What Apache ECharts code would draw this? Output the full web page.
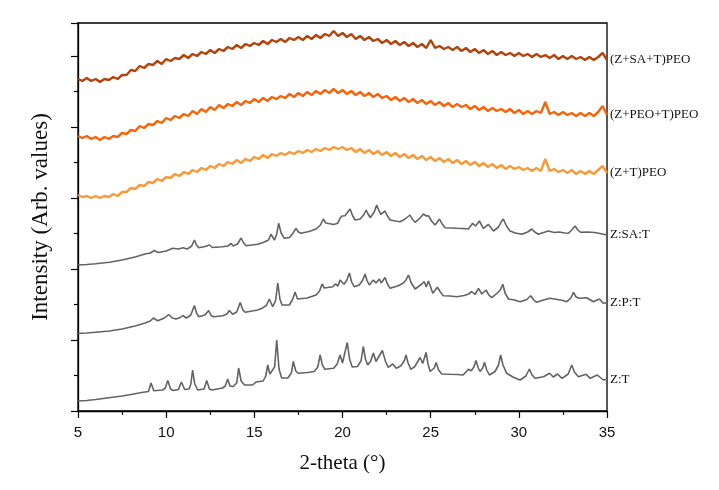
<!DOCTYPE html>
<html><head><meta charset="utf-8">
<script src="https://cdn.jsdelivr.net/npm/echarts@6/dist/echarts.min.js"></script>
<style>html,body{margin:0;padding:0;background:#fff}#c{width:719px;height:490px}</style>
</head><body><div id="c"></div>
<script>
// 2-theta scan grid for the amorphous (PEO) patterns
var thetaGrid = [5,5.25,5.5,5.75,6,6.25,6.5,6.75,7,7.25,7.5,7.75,8,8.25,8.5,8.75,9,9.25,9.5,9.75,10,10.25,10.5,10.75,11,11.25,11.5,11.75,12,12.25,12.5,12.75,13,13.25,13.5,13.75,14,14.25,14.5,14.75,15,15.25,15.5,15.75,16,16.25,16.5,16.75,17,17.25,17.5,17.75,18,18.25,18.5,18.75,19,19.25,19.5,19.75,20,20.25,20.5,20.75,21,21.25,21.5,21.75,22,22.25,22.5,22.75,23,23.25,23.5,23.75,24,24.25,24.5,24.75,25,25.25,25.5,25.75,26,26.25,26.5,26.75,27,27.25,27.5,27.75,28,28.25,28.5,28.75,29,29.25,29.5,29.75,30,30.25,30.5,30.75,31,31.25,31.5,31.75,32,32.25,32.5,32.75,33,33.25,33.5,33.75,34,34.25,34.5,34.75,35];

// (Z+SA+T)PEO intensities (stacked, arb. units)
var zSaTPeo = [332,330,333,330, 332,329,332,331, 334,332,336,336, 341,340,345,343, 347,346,350,347, 352,350,353,352, 356,353,357,355, 359,357,361,358, 362,360,364,362, 366,363,367,365, 368,366,370,367, 371,369,372,369, 373,371,374,371, 375,372,376,373, 377,375,380,375, 378,374,377,372, 375,371,374,370, 372,368,371,367, 370,366,369,365, 368,364,367,363, 371,363,365,362, 364,361,364,360, 363,359,362,358, 361,357,360,356, 359,356,358,355, 358,355,357,354, 357,354,356,353, 356,352,355,352, 355,352,354,351, 354,351,354,358, 351];

// (Z+PEO+T)PEO
var zPeoTPeo = [275,273,275,272, 274,271,274,272, 275,274,278,277, 281,280,285,283, 287,286,290,288, 293,291,295,293, 297,295,300,297, 302,299,304,301, 306,303,307,305, 309,306,310,308, 312,309,313,310, 314,312,315,313, 317,314,318,315, 319,316,320,317, 321,318,322,318, 321,317,320,316, 319,315,318,314, 317,313,315,311, 314,310,313,309, 312,308,311,307, 310,306,309,305, 308,304,307,304, 306,302,305,301, 304,300,303,300, 302,299,302,298, 301,297,300,297, 300,298,309,297, 299,296,299,296, 298,295,298,295, 298,295,299,305, 296];

// (Z+T)PEO
var zTPeo = [216,214,215,213, 215,213,215,214, 217,215,219,219, 223,222,226,225, 229,228,232,230, 234,233,237,235, 239,237,241,239, 243,241,245,243, 247,245,249,247, 251,248,252,250, 254,252,256,253, 257,255,258,256, 259,257,260,258, 261,259,262,260, 263,261,264,262, 264,261,263,259, 262,258,261,257, 260,256,259,255, 258,254,257,253, 256,252,255,251, 254,250,253,249, 252,248,251,247, 250,246,249,245, 248,244,247,243, 246,242,245,242, 244,241,243,240, 243,240,252,240, 242,239,241,238, 241,237,240,237, 240,237,241,245, 238];

// Crystalline patterns: [2-theta, intensity]
var zSaT = [[5.0,146],[5.5,146.5],[6.0,147.2],[6.78,148.7],[7.5,151],[8.29,154.3],[8.8,157],[9.1,158],[9.33,160.5],[9.55,158.5],[10.0,160],[10.37,162.7],[10.7,162],[10.95,163.3],[11.2,162],[11.45,165],[11.6,171],[11.72,166],[11.85,163.3],[12.2,164.5],[12.45,166],[12.62,163.5],[13.2,164.3],[13.5,165],[13.68,167.5],[13.8,165],[14.05,167],[14.25,173],[14.4,168],[14.53,165.3],[15.19,166.7],[15.5,168.5],[15.8,171],[15.95,176.7],[16.14,171],[16.27,177],[16.38,187.7],[16.52,178],[16.7,172.7],[17.0,173.5],[17.2,178],[17.36,182.7],[17.5,179],[17.65,177.7],[18.1,179.5],[18.5,182],[18.75,186],[18.91,192],[19.05,188],[19.16,186],[19.5,186.5],[19.73,187.7],[19.86,192.7],[19.97,195],[20.14,195.3],[20.3,199],[20.43,202],[20.58,195],[20.71,191],[21.0,192],[21.2,196],[21.34,201],[21.45,197],[21.57,193.3],[21.8,199],[21.94,206],[22.05,201],[22.17,196.7],[22.41,200],[22.55,195],[22.7,191],[23.0,190],[23.26,189.3],[23.55,192],[23.83,196],[23.95,192],[24.12,188.7],[24.4,193],[24.59,197],[24.75,195],[24.87,195.3],[25.05,190],[25.25,186],[25.5,192],[25.65,187],[25.82,183.3],[26.15,183],[26.48,182.7],[26.8,182.5],[27.14,182],[27.38,187.7],[27.55,185],[27.76,190],[27.99,182.7],[28.27,186.7],[28.56,180],[28.85,184],[29.0,189],[29.12,192],[29.3,185],[29.5,180],[29.8,178],[30.17,176.7],[30.5,179],[30.73,182],[30.9,179],[31.11,176.7],[31.4,178.5],[31.68,180],[32.0,178.5],[32.3,179],[32.6,178],[32.81,177.7],[33.0,181],[33.19,185],[33.35,181],[33.51,178.7],[33.9,179],[34.3,178.5],[34.6,177.5],[35.0,176]];

var zPT = [[5.0,77.5],[5.5,78],[6.0,78.8],[6.78,80],[7.5,82],[8.29,85.3],[8.8,88],[9.1,90],[9.27,93],[9.52,90.3],[9.9,93],[10.14,96.5],[10.35,93],[10.56,92],[10.8,93.5],[10.94,95.5],[11.15,93],[11.4,96],[11.6,105.5],[11.72,98],[11.85,94.3],[12.2,96],[12.41,100.5],[12.55,95.5],[12.7,94.3],[13.21,95.3],[13.45,97],[13.58,100.5],[13.77,96.7],[14.0,99],[14.2,108.5],[14.35,101],[14.49,98.7],[15.19,101],[15.44,102.7],[15.7,106],[15.85,112],[16.04,104.3],[16.2,110],[16.33,128],[16.45,112],[16.57,106],[16.99,106],[17.18,112],[17.31,119],[17.45,112],[17.52,111],[18.0,113],[18.5,116],[18.7,120],[18.84,127],[18.97,123],[19.07,122.7],[19.45,124.3],[19.6,127],[19.75,125],[19.86,131],[20.09,126.7],[20.25,131],[20.39,138],[20.52,129],[20.66,124.3],[20.95,126],[21.15,131],[21.28,137],[21.4,130],[21.52,126],[21.75,131],[21.9,128],[22.09,132],[22.2,128],[22.41,133.5],[22.55,127],[22.7,122.7],[23.17,125.3],[23.45,128],[23.6,131],[23.74,136],[23.9,128],[24.12,122],[24.35,125],[24.5,127],[24.63,129.5],[24.75,124],[24.87,130],[25.0,124],[25.12,117.7],[25.38,123.7],[25.55,119],[25.72,115.3],[26.1,115],[26.48,114.3],[26.9,115.5],[27.15,117],[27.33,119.5],[27.52,116.5],[27.71,122.7],[27.9,117],[28.14,121],[28.3,116],[28.46,113.3],[28.75,117.5],[28.95,121],[29.09,126.7],[29.22,118],[29.41,112],[29.75,111],[30.07,109.3],[30.45,111.5],[30.67,115.3],[30.85,111],[31.01,108.7],[31.4,111],[31.77,112.7],[32.2,111.5],[32.5,110.5],[32.72,109.3],[32.95,113],[33.1,118.7],[33.25,114],[33.44,112.7],[33.85,113.3],[34.23,109.3],[34.57,112],[34.79,107.7],[35.0,108.3]];

var zT = [[5.0,10],[5.5,10.5],[6.0,11.5],[6.75,13.3],[7.5,15],[8.0,16.5],[8.7,18.7],[9.0,19.5],[9.14,28],[9.3,20.3],[9.8,21],[9.95,23],[10.09,30.5],[10.25,22],[10.4,20.5],[10.7,21.5],[10.86,29],[11.05,21.5],[11.3,22],[11.4,27],[11.5,41],[11.62,27],[11.79,21],[12.15,22],[12.3,30.5],[12.45,22],[12.6,21],[13.2,23],[13.35,25],[13.49,32],[13.62,25],[13.8,24.5],[14.0,28],[14.11,43],[14.25,30],[14.45,26],[14.9,26],[15.1,29],[15.19,31],[15.3,29.5],[15.5,30],[15.65,35],[15.76,46],[15.88,37],[15.98,36],[16.15,44],[16.27,71],[16.4,42],[16.55,33],[16.9,33],[17.1,38],[17.21,49.5],[17.35,40],[17.5,37.7],[18.0,38.5],[18.4,39.5],[18.6,44],[18.73,56],[18.86,46],[19.0,41.7],[19.5,42.7],[19.7,47],[19.86,56],[20.0,48],[20.08,50],[20.27,68.5],[20.4,52],[20.55,44],[20.85,44.5],[21.05,50],[21.18,64.5],[21.3,52],[21.43,46],[21.6,50],[21.75,58],[21.9,49.5],[22.0,50],[22.26,60.5],[22.45,49],[22.6,43.7],[22.85,47],[23.05,42.7],[23.3,45],[23.5,50],[23.6,56],[23.72,48],[23.87,41.7],[24.1,44.5],[24.4,53.5],[24.55,47.5],[24.74,58.5],[24.85,47],[24.97,39.5],[25.2,43],[25.31,48.5],[25.45,41],[25.63,37],[26.1,36.7],[26.5,36.5],[26.84,36],[27.14,41.7],[27.3,40.3],[27.45,44],[27.57,50.5],[27.7,43],[27.8,39.5],[27.95,43],[28.05,48.7],[28.18,41],[28.33,36],[28.65,39.5],[28.85,46],[28.97,56],[29.1,46],[29.31,37.7],[29.69,33.7],[30.07,31],[30.4,35],[30.6,42],[30.75,36],[30.92,32.7],[31.4,34.3],[31.74,37.7],[31.95,34],[32.19,37],[32.45,32.7],[32.8,37],[33.0,46],[33.15,39],[33.38,34.3],[33.81,36.7],[34.05,32.7],[34.45,36],[34.79,31],[35.0,31.7]];

var seriesNames = ['(Z+SA+T)PEO','(Z+PEO+T)PEO','(Z+T)PEO','Z:SA:T','Z:P:T','Z:T'];
var xTicks = {min:5, max:35, interval:5};

function zipGrid(vals){ return vals.map(function(v,i){ return [thetaGrid[i], v]; }); }

var chart = echarts.init(document.getElementById('c'), null, {renderer:'canvas'});
var endLbl = {show:true, formatter:'{a}', color:'#111', fontFamily:'Liberation Serif', fontSize:13, distance:3};
function mk(name, data, color, w){
  return {name:name, type:'line', data:data, showSymbol:false, symbol:'none', animation:false,
    lineStyle:{color:color, width:w}, itemStyle:{color:color}, endLabel:endLbl, silent:true};
}
chart.setOption({
  backgroundColor:'#fff',
  animation:false,
  grid:{left:78, right:112, top:23, bottom:79, show:true, borderColor:'#000', borderWidth:1.3},
  xAxis:{type:'value', min:xTicks.min, max:xTicks.max, interval:xTicks.interval,
    name:'2-theta (°)', nameLocation:'middle', nameGap:42,
    nameTextStyle:{fontFamily:'Liberation Serif', fontSize:21, color:'#111'},
    axisLine:{lineStyle:{color:'#000', width:1.3}},
    axisTick:{show:true, length:7, lineStyle:{color:'#000', width:1.2}},
    minorTick:{show:true, splitNumber:2, length:4, lineStyle:{color:'#000', width:1.2}},
    axisLabel:{fontFamily:'Liberation Sans', fontSize:15, color:'#111', margin:14},
    splitLine:{show:false}},
  yAxis:{type:'value', min:0, max:388, interval:71,
    name:'Intensity (Arb. values)', nameLocation:'middle', nameGap:26,
    nameTextStyle:{fontFamily:'Liberation Serif', fontSize:23, color:'#111'},
    axisLine:{show:true, lineStyle:{color:'#000', width:1.3}},
    axisTick:{show:true, length:7, lineStyle:{color:'#000', width:1.2}},
    minorTick:{show:true, splitNumber:2, length:4, lineStyle:{color:'#000', width:1.2}},
    axisLabel:{show:false}, splitLine:{show:false}},
  series:[
    mk(seriesNames[0], zipGrid(zSaTPeo), '#b4440c', 2.4),
    mk(seriesNames[1], zipGrid(zPeoTPeo), '#f6650c', 2.4),
    mk(seriesNames[2], zipGrid(zTPeo), '#f99a3a', 2.4),
    mk(seriesNames[3], zSaT, '#636363', 1.6),
    mk(seriesNames[4], zPT, '#636363', 1.6),
    mk(seriesNames[5], zT, '#636363', 1.6)
  ]
});
</script></body></html>
